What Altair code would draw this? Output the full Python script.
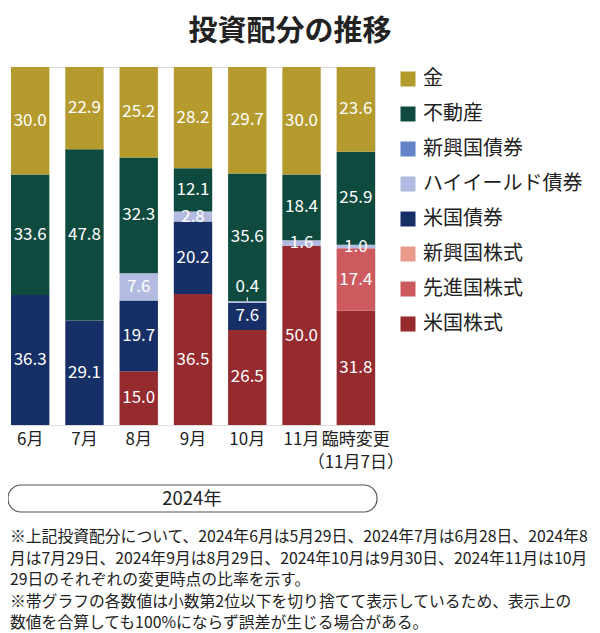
import altair as alt
import pandas as pd

FONT = "Noto Sans CJK JP"

# ---- data -----------------------------------------------------------
months = ["6月", "7月", "8月", "9月", "10月", "11月", "臨時変更|（11月7日）"]

legend_order = ["金", "不動産", "新興国債券", "ハイイールド債券", "米国債券",
                "新興国株式", "先進国株式", "米国株式"]
colors = ["#B59A2E", "#0E4A3E", "#6383C8", "#B4BBE0", "#172F67",
          "#E99A8A", "#CD5A5F", "#952A2F"]

gold    = [30.0, 22.9, 25.2, 28.2, 29.7, 30.0, 23.6]
reit    = [33.6, 47.8, 32.3, 12.1, 35.6, 18.4, 25.9]
em_bond = [0, 0, 0, 0, 0, 0, 0]
hy_bond = [0, 0, 7.6, 2.8, 0.4, 1.6, 1.0]
us_bond = [36.3, 29.1, 19.7, 20.2, 7.6, 0, 0]
em_eq   = [0, 0, 0, 0, 0, 0, 0]
dev_eq  = [0, 0, 0, 0, 0, 0, 17.4]
us_eq   = [0, 0, 15.0, 36.5, 26.5, 50.0, 31.8]

series = {
    "金": gold, "不動産": reit, "新興国債券": em_bond, "ハイイールド債券": hy_bond,
    "米国債券": us_bond, "新興国株式": em_eq, "先進国株式": dev_eq, "米国株式": us_eq,
}

title_text = "投資配分の推移"
year_text = "2024年"
notes = [
    "※上記投資配分について、2024年6月は5月29日、2024年7月は6月28日、2024年8",
    "月は7月29日、2024年9月は8月29日、2024年10月は9月30日、2024年11月は10月",
    "29日のそれぞれの変更時点の比率を示す。",
    "※帯グラフの各数値は小数第2位以下を切り捨てて表示しているため、表示上の",
    "数値を合算しても100%にならず誤差が生じる場合がある。",
]

# ---- table built from the arrays ------------------------------------
stack_order = list(reversed(legend_order))  # bottom -> top
rows = []
for i, m in enumerate(months):
    total = sum(series[a][i] for a in stack_order)
    cum = 0.0
    for a in stack_order:
        v = series[a][i]
        if v > 0:
            rows.append(dict(month=m, asset=a, value=v,
                             y0=cum / total, y1=(cum + v) / total,
                             mid=(cum + v / 2) / total, label=f"{v:.1f}"))
        cum += v
df = pd.DataFrame(rows)

xenc = alt.X("month:N", sort=months,
             scale=alt.Scale(paddingInner=0.293, paddingOuter=0),
             axis=alt.Axis(title=None, domain=False, ticks=False,
                           labelAngle=0, labelFontSize=17, labelFont=FONT,
                           labelColor="#222", labelPadding=6,
                           labelLineHeight=23,
                           labelExpr="split(datum.label, '|')"))
yscale = alt.Scale(domain=[0, 1])

bars = alt.Chart(df).mark_bar().encode(
    x=xenc,
    y=alt.Y("y0:Q", scale=yscale, axis=None),
    y2="y1:Q",
    color=alt.Color("asset:N",
                    scale=alt.Scale(domain=legend_order, range=colors),
                    legend=alt.Legend(orient="none", legendX=387, legendY=2,
                                      title=None, symbolType="square",
                                      symbolSize=225, symbolStrokeWidth=0,
                                      symbolOpacity=1, labelFontSize=20,
                                      labelFont=FONT, labelColor="#222",
                                      rowPadding=15, labelOffset=5, padding=0,
                                      labelLimit=300)),
)

labels = alt.Chart(df[df.value >= 0.5]).mark_text(
    color="white", fontSize=17, font=FONT, baseline="middle"
).encode(x=xenc, y=alt.Y("mid:Q", scale=yscale, axis=None), text="label:N")

small = df[df.value < 0.5]
small_labels = alt.Chart(small).mark_text(
    color="white", fontSize=17, font=FONT, baseline="middle", dy=-14
).encode(x=xenc, y=alt.Y("y1:Q", scale=yscale, axis=None), text="label:N")

small_ticks = alt.Chart(small).mark_rule(color="white", strokeWidth=1, y2Offset=-4).encode(
    x=xenc, y=alt.Y("y1:Q", scale=yscale, axis=None), y2="y1:Q")

anno = pd.DataFrame({"k": [0]})
title = alt.Chart(anno).mark_text(
    fontSize=29, fontWeight="bold", font=FONT, color="#222",
    align="center", baseline="middle"
).encode(x=alt.value(279), y=alt.value(-35), text=alt.value(title_text))

pill = alt.Chart(anno).mark_rect(
    cornerRadius=13, fill="white", stroke="#555", strokeWidth=1.2
).encode(x=alt.value(-3), x2=alt.value(366), y=alt.value(418), y2=alt.value(445))

year = alt.Chart(anno).mark_text(
    fontSize=18.5, font=FONT, color="#222", align="center", baseline="middle"
).encode(x=alt.value(181), y=alt.value(431.5), text=alt.value(year_text))

foot = alt.Chart(anno).mark_text(
    fontSize=15.8, font=FONT, color="#222", align="left",
    baseline="alphabetic", lineHeight=21.6
).encode(x=alt.value(-1), y=alt.value(475), text=alt.value(notes))

chart = alt.layer(bars, labels, small_ticks, small_labels, title, pill, year, foot).properties(
    width=364, height=358,
    autosize=alt.AutoSizeParams(type="none"),
    padding={"left": 3, "top": 59, "right": 217, "bottom": 208},
).configure_view(stroke=None).configure(font=FONT)

chart.save("out.html", embed_options={"renderer": "svg", "actions": False})
